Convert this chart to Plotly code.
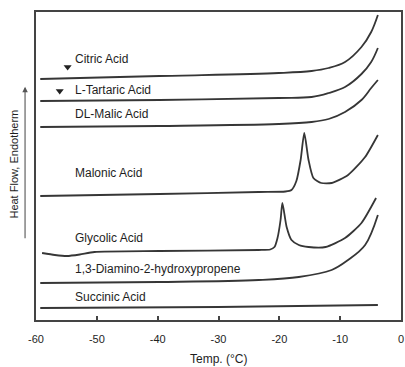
import plotly.graph_objects as go

# DSC heating traces, temperature in °C and heat flow in arbitrary units (endotherm up)
citric_T = [-59.3, -39.7, -20.1, -14.7, -11.9, -9.2, -6.5, -4.9, -3.8]
citric_hf = [241, 244, 247, 249, 252, 258, 273, 288, 305]

tartaric_T = [-59.3, -39.7, -20.1, -14.7, -11.9, -9.2, -6.5, -4.9, -3.8]
tartaric_hf = [219, 220, 222, 223, 227, 233, 246, 258, 272]

malic_T = [-59.3, -39.7, -20.1, -14.7, -11.9, -9.2, -6.5, -4.9, -3.8]
malic_hf = [193, 194, 196, 198, 201, 208, 220, 232, 240]

malonic_T = [-59.3, -39.7, -23.4, -19.0, -18.0, -17.2, -16.5, -15.9, -15.2,
             -14.4, -13.1, -11.4, -8.7, -5.9, -3.8]
malonic_hf = [124, 126, 128, 128.5, 130, 139, 160, 187, 160, 142, 137, 137, 145,
              163, 185]

glycolic_T = [-59.0, -56.9, -54.9, -52.8, -50.4, -39.7, -23.4, -21.5, -20.8,
              -20.3, -19.8, -19.5, -18.8, -18.0, -16.8, -15.2, -12.4, -9.2,
              -6.5, -4.1]
glycolic_hf = [67, 65, 64, 65.5, 68, 69, 70, 70.5, 73, 82, 100, 117, 93, 80, 75,
               73, 73, 82, 97, 122]

diamino_T = [-59.3, -39.7, -23.4, -16.8, -11.4, -8.7, -5.9, -3.8]
diamino_hf = [37, 38, 40, 43, 50, 60, 75, 105]

succinic_T = [-59.3, -30.0, -3.8]
succinic_hf = [12, 13, 15]

# glass-transition markers
marker_T = [-54.8, -56.1]
marker_hf = [253, 229]

# trace labels: text, left x (°C), heat-flow position
label_text = ["Citric Acid", "L-Tartaric Acid", "DL-Malic Acid", "Malonic Acid",
              "Glycolic Acid", "1,3-Diamino-2-hydroxypropene", "Succinic Acid"]
label_T = [-54.0, -54.0, -54.0, -54.0, -54.0, -54.0, -54.0]
label_hf = [261, 230, 206, 147, 82, 51, 23]

tick_vals = [-60, -50, -40, -30, -20, -10, 0]
tick_text = ["-60", "-50", "-40", "-30", "-20", "-10", "0"]

LINE = "#363636"
TEXT = "#1e1e1e"
FONT = "Liberation Sans, Arial, sans-serif"

# (T, heat flow, spline smoothing): smooth baselines, tighter peaks
traces = [
    (citric_T, citric_hf, 1.0),
    (tartaric_T, tartaric_hf, 1.0),
    (malic_T, malic_hf, 1.0),
    (malonic_T, malonic_hf, 0.6),
    (glycolic_T, glycolic_hf, 0.6),
    (diamino_T, diamino_hf, 1.0),
    (succinic_T, succinic_hf, 1.0),
]

fig = go.Figure()
for t, hf, sm in traces:
    fig.add_trace(go.Scatter(
        x=t, y=hf, mode="lines",
        line=dict(color=LINE, width=1.8, shape="spline", smoothing=sm),
        showlegend=False, hoverinfo="skip",
    ))

fig.add_trace(go.Scatter(
    x=marker_T, y=marker_hf, mode="markers",
    marker=dict(symbol="triangle-down", size=7, color="#222"),
    showlegend=False, hoverinfo="skip",
))

for txt, t, hf in zip(label_text, label_T, label_hf):
    fig.add_annotation(
        x=t, y=hf, text=txt, showarrow=False,
        xanchor="left", yanchor="middle",
        font=dict(family=FONT, size=12, color=TEXT),
    )

# y-axis caption with upward arrow
fig.add_annotation(
    xref="paper", yref="paper", x=-0.060, y=0.505,
    xanchor="center", yanchor="middle",
    text="Heat Flow, Endotherm", textangle=-90, showarrow=False,
    font=dict(family=FONT, size=11, color=TEXT),
)
fig.add_annotation(
    xref="paper", yref="paper", x=-0.030, y=0.757,
    ax=0, ay=153, axref="pixel", ayref="pixel",
    text="", showarrow=True, arrowhead=2, arrowsize=1.0,
    arrowwidth=1.1, arrowcolor="#555",
)
# x-axis title
fig.add_annotation(
    xref="paper", yref="paper", x=0.5, y=0, yshift=-39,
    text="Temp. (°C)", showarrow=False, yanchor="middle",
    font=dict(family=FONT, size=12, color=TEXT),
)

fig.update_layout(
    width=405, height=367,
    margin=dict(l=36, r=2, t=12, b=47),
    paper_bgcolor="white", plot_bgcolor="white",
    xaxis=dict(
        range=[-60, 0], tickvals=tick_vals, ticktext=tick_text,
        ticks="inside", ticklen=4, tickcolor="#444", tickwidth=1.5,
        showline=True, linecolor="#444", linewidth=1.6, mirror=True,
        showgrid=False, zeroline=False, ticklabelstandoff=8,
        tickfont=dict(family=FONT, size=11, color=TEXT),
    ),
    yaxis=dict(
        range=[0, 308], showticklabels=False, ticks="",
        showline=True, linecolor="#444", linewidth=1.6, mirror=True,
        showgrid=False, zeroline=False,
    ),
)

fig.write_html("out.html")
